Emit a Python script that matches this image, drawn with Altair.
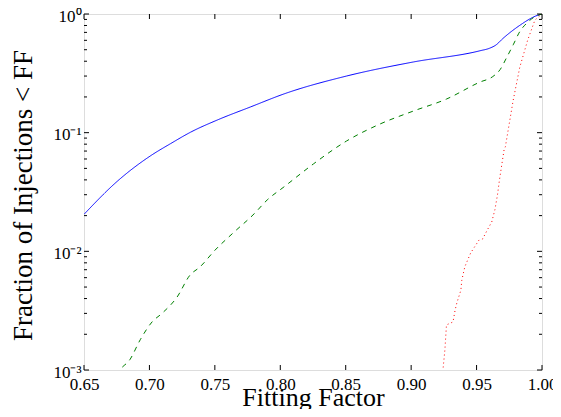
import altair as alt
import pandas as pd

# ---- data ----
blue_ff = [0.650, 0.6755, 0.701, 0.7163, 0.7315, 0.752, 0.7774, 0.8028,
           0.8506, 0.9016, 0.9526, 0.960, 0.965, 0.970, 0.975, 0.980, 0.985, 0.990, 0.995, 1.000]
blue_val = [0.0205, 0.039, 0.064, 0.081, 0.101, 0.128, 0.165, 0.212,
            0.300, 0.394, 0.490, 0.515, 0.55, 0.62, 0.69, 0.76, 0.83, 0.90, 0.96, 1.0]

green_ff = [0.675, 0.6775, 0.685, 0.693, 0.702, 0.7096, 0.721, 0.731, 0.7387, 0.750,
            0.764, 0.780, 0.790, 0.8028, 0.8253, 0.8506, 0.876, 0.9016, 0.927, 0.9526,
            0.962, 0.968, 0.973, 0.978, 0.983, 0.988, 0.994, 1.000]
green_val = [0.0009, 0.001, 0.00122, 0.0018, 0.00254, 0.003, 0.0041, 0.0063, 0.0074, 0.0102,
             0.0143, 0.0207, 0.0271, 0.0349, 0.0545, 0.085, 0.118, 0.152, 0.192, 0.267,
             0.295, 0.34, 0.43, 0.55, 0.71, 0.83, 0.94, 1.0]

red_ff = [0.9238, 0.9243, 0.9258, 0.927, 0.932, 0.9336, 0.935, 0.938, 0.9387, 0.941,
          0.9455, 0.9494, 0.952, 0.9546, 0.958, 0.9616, 0.964, 0.966, 0.9675, 0.971,
          0.972, 0.978, 0.983, 0.989, 0.9946, 1.000]
red_val = [0.0009, 0.001, 0.00148, 0.0024, 0.00254, 0.0032, 0.0037, 0.0047, 0.0057, 0.0074,
           0.0097, 0.0113, 0.0125, 0.0127, 0.015, 0.0177, 0.0224, 0.030, 0.040, 0.0715,
           0.076, 0.188, 0.355, 0.60, 0.89, 1.0]

series_names = ["blue", "green", "red"]
series_colors = ["#0000ff", "#008000", "#ff0000"]
series_dash = [[1, 0], [5, 5], [1, 3]]
series_interp = ["monotone", "monotone", "linear"]
x_ticks = [0.65, 0.70, 0.75, 0.80, 0.85, 0.90, 0.95, 1.00]
y_major = [0.001, 0.01, 0.1, 1.0]
y_minor = [m * d for d in [0.001, 0.01, 0.1] for m in range(2, 10)]

W, H = 458, 356
FONT = "Liberation Serif"

xscale = alt.Scale(domain=[0.65, 1.0], nice=False, zero=False)
yscale = alt.Scale(type="log", domain=[0.001, 1.0], nice=False)

x_axis = alt.Axis(values=x_ticks, format=".2f", grid=False, ticks=False, domain=False,
                  labelFont=FONT, labelFontSize=17, labelColor="black",
                  labelBaseline="alphabetic", labelPadding=19, labelFlush=False,
                  title="Fitting Factor", titleFont=FONT, titleFontSize=26,
                  titleFontWeight="normal", titleColor="black",
                  titleX=W / 2, titleY=35, titleBaseline="alphabetic")
y_axis = alt.Axis(values=y_major, grid=False, ticks=False, domain=False,
                  labelExpr="datum.value >= 0.5 ? '10⁰' : datum.value >= 0.05 ? '10⁻¹' : datum.value >= 0.005 ? '10⁻²' : '10⁻³'",
                  labelFont=FONT, labelFontSize=17, labelColor="black",
                  labelPadding=3, labelFlush=False, labelBaseline="middle", labelOffset=2,
                  title="Fraction of Injections < FF", titleFont=FONT, titleFontSize=27,
                  titleFontWeight="normal", titleColor="black",
                  titleX=-61, titleY=181, titleAngle=270,
                  titleAlign="center", titleBaseline="middle")

line_layers = []
for k, (name, xs, ys) in enumerate(zip(series_names, [blue_ff, green_ff, red_ff],
                                       [blue_val, green_val, red_val])):
    d = pd.DataFrame({"ff": xs, "frac": ys})
    if k == 0:
        enc = dict(x=alt.X("ff:Q", scale=xscale, axis=x_axis),
                   y=alt.Y("frac:Q", scale=yscale, axis=y_axis))
    else:
        enc = dict(x=alt.X("ff:Q", scale=xscale), y=alt.Y("frac:Q", scale=yscale))
    line_layers.append(
        alt.Chart(d).mark_line(strokeWidth=1, clip=True, color=series_colors[k],
                               strokeDash=series_dash[k], interpolate=series_interp[k])
        .encode(**enc)
    )

xt_df = pd.DataFrame({"ff": x_ticks})
ymaj_df = pd.DataFrame({"frac": y_major})
ymin_df = pd.DataFrame({"frac": y_minor})

def xrule(y0, y1):
    return alt.Chart(xt_df).mark_rule(color="black", strokeWidth=1).encode(
        x=alt.X("ff:Q", scale=xscale), y=alt.value(y0), y2=alt.value(y1))

def yrule(d, x0, x1):
    return alt.Chart(d).mark_rule(color="black", strokeWidth=1).encode(
        y=alt.Y("frac:Q", scale=yscale), x=alt.value(x0), x2=alt.value(x1))

ticks = [
    xrule(H, H - 5), xrule(0, 5),
    yrule(ymaj_df, 0, 5), yrule(ymaj_df, W, W - 5),
    yrule(ymin_df, 0, 3), yrule(ymin_df, W, W - 3),
]

chart = alt.layer(*line_layers, *ticks).properties(
    width=W, height=H,
    autosize=alt.AutoSizeParams(type="none"),
    padding={"left": 76, "top": 6, "right": 11, "bottom": 39},
).configure_view(stroke="black", strokeWidth=1).configure(background="white")

chart.save("out.html", embed_options={"renderer": "svg", "actions": False})
